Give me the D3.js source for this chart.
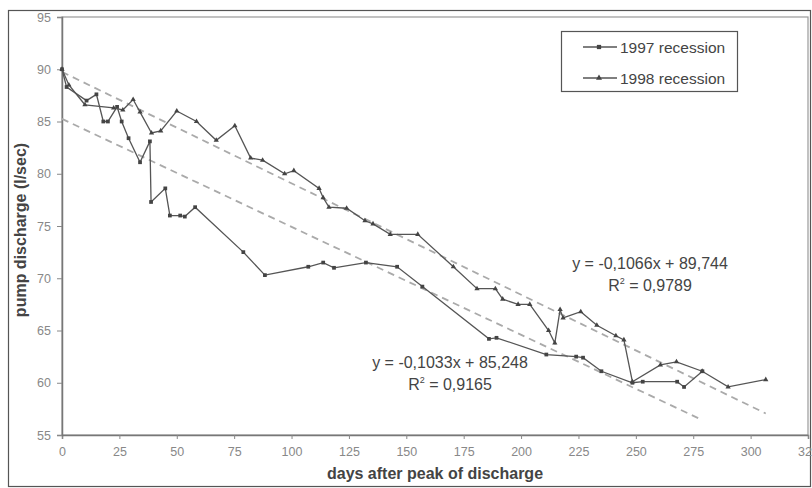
<!DOCTYPE html>
<html><head><meta charset="utf-8">
<script src="https://cdn.jsdelivr.net/npm/d3@7"></script>
<style>
html,body{margin:0;padding:0;background:#fff;}
svg{display:block;font-family:"Liberation Sans",Arial,sans-serif;}
</style></head>
<body>
<svg id="c" width="812" height="488"></svg>
<script>
// ---- data ----
const days1997 = [0, 2, 10.7, 15, 18, 20, 24, 26, 29, 34, 38.3, 38.8, 45, 47, 51.5, 53.5, 58, 79, 88.4, 107.3, 113.8, 118.5, 132.4, 146, 157, 186, 189.3, 211, 224, 227, 235, 248.5, 253, 268, 271, 279];
const vals1997 = [90.0, 88.3, 87.0, 87.6, 85.0, 85.0, 86.4, 85.0, 83.4, 81.1, 83.1, 77.3, 78.6, 76.0, 76.0, 75.9, 76.8, 72.5, 70.3, 71.1, 71.5, 71.0, 71.5, 71.1, 69.2, 64.2, 64.3, 62.7, 62.5, 62.4, 61.1, 60.0, 60.1, 60.1, 59.6, 61.1];
const days1998 = [0, 3, 10, 22.5, 26.5, 31, 34, 39, 43, 50, 58.6, 67.2, 75.3, 82.2, 87.4, 97, 101, 112, 113.8, 116.3, 124, 132, 135.5, 143, 155, 170.5, 180.8, 188.8, 192, 198.7, 203.8, 212, 214.7, 217, 218.3, 226, 233, 241.3, 244.8, 248.5, 260.7, 267.7, 278.9, 290.2, 306.6];
const vals1998 = [90.0, 88.5, 86.6, 86.3, 86.1, 87.1, 85.9, 83.9, 84.1, 86.0, 85.0, 83.2, 84.6, 81.5, 81.3, 80.0, 80.3, 78.6, 77.7, 76.8, 76.7, 75.5, 75.2, 74.2, 74.2, 71.1, 69.0, 69.0, 68.0, 67.5, 67.5, 65.0, 63.8, 67.0, 66.2, 66.8, 65.5, 64.5, 64.1, 60.1, 61.7, 62.0, 61.1, 59.6, 60.3];
const seriesNames = ["1997 recession", "1998 recession"];
const trendSlope = [-0.1033, -0.1066];
const trendIntercept = [85.248, 89.744];
const trendEq = ["y = -0,1033x + 85,248", "y = -0,1066x + 89,744"];
const trendR2 = ["0,9165", "0,9789"];
const xTicks = [0, 25, 50, 75, 100, 125, 150, 175, 200, 225, 250, 275, 300, 325];
const yTicks = [55, 60, 65, 70, 75, 80, 85, 90, 95];
const xTitle = "days after peak of discharge";
const yTitle = "pump discharge (l/sec)";

// ---- layout ----
const svg = d3.select("#c");
const L = 62, R = 808, T = 17, B = 435;
const x = d3.scaleLinear().domain([0, 325]).range([L, R]);
const y = d3.scaleLinear().domain([55, 95]).range([B, T]);

// outer frame
svg.append("rect").attr("x", 8.5).attr("y", 10.5).attr("width", 802).attr("height", 476)
  .attr("fill", "#fff").attr("stroke", "#555").attr("stroke-width", 1.2);
// plot area frame
svg.append("rect").attr("x", L).attr("y", T).attr("width", R - L).attr("height", B - T)
  .attr("fill", "none").attr("stroke", "#999").attr("stroke-width", 1.2);

// axes
const gx = svg.append("g").attr("transform", `translate(0,${B})`)
  .call(d3.axisBottom(x).tickValues(xTicks).tickSize(4).tickPadding(8));
const gy = svg.append("g").attr("transform", `translate(${L},0)`)
  .call(d3.axisLeft(y).tickValues(yTicks).tickSize(5).tickPadding(6));
[gx, gy].forEach(g => {
  g.select(".domain").attr("stroke", "#777").attr("stroke-width", 1.5);
  g.selectAll(".tick line").attr("stroke", "#888");
  g.selectAll(".tick text").attr("fill", "#888").attr("font-size", 12.5)
    .attr("font-family", "'Liberation Sans',Arial,sans-serif");
});

// axis titles
svg.append("text").attr("x", (L + R) / 2).attr("y", 479).attr("text-anchor", "middle")
  .attr("font-size", 16).attr("font-weight", "bold").attr("fill", "#444").text(xTitle);
svg.append("text").attr("transform", `translate(26,${(T + B) / 2 + 4}) rotate(-90)`)
  .attr("text-anchor", "middle").attr("font-size", 16).attr("font-weight", "bold")
  .attr("fill", "#444").text(yTitle);

// trendlines
const lastDays = [d3.max(days1997), d3.max(days1998)];
[0, 1].forEach(i => {
  const pts = [0, lastDays[i]].map(d => [d, trendSlope[i] * d + trendIntercept[i]]);
  svg.append("path").attr("d", d3.line().x(p => x(p[0])).y(p => y(p[1]))(pts))
    .attr("fill", "none").attr("stroke", "#aaa").attr("stroke-width", 1.8)
    .attr("stroke-dasharray", "7,5");
});

// series
const series = [
  {days: days1997, vals: vals1997, sym: d3.symbolSquare, size: 14},
  {days: days1998, vals: vals1998, sym: d3.symbolTriangle, size: 12}
];
const line = d3.line().x(p => x(p[0])).y(p => y(p[1]));
series.forEach(s => {
  const pts = s.days.map((d, i) => [d, s.vals[i]]);
  svg.append("path").attr("d", line(pts)).attr("fill", "none")
    .attr("stroke", "#555").attr("stroke-width", 1.3);
  svg.append("g").selectAll("path").data(pts).join("path")
    .attr("transform", p => `translate(${x(p[0])},${y(p[1])})`)
    .attr("d", d3.symbol().type(s.sym).size(s.size)).attr("fill", "#444");
});

// equations
const eqPos = [[450, 368, 390], [650, 269, 291]];
[0, 1].forEach(i => {
  svg.append("text").attr("x", eqPos[i][0]).attr("y", eqPos[i][1]).attr("text-anchor", "middle")
    .attr("font-size", 16).attr("fill", "#444").text(trendEq[i]);
  const t = svg.append("text").attr("x", eqPos[i][0]).attr("y", eqPos[i][2]).attr("text-anchor", "middle")
    .attr("font-size", 16).attr("fill", "#444");
  t.append("tspan").text("R");
  t.append("tspan").attr("font-size", 9).attr("dy", -7).text("2");
  t.append("tspan").attr("dy", 7).text(" = " + trendR2[i]);
});

// legend
const lg = svg.append("g");
lg.append("rect").attr("x", 561.5).attr("y", 31.5).attr("width", 176).attr("height", 60)
  .attr("fill", "#fff").attr("stroke", "#555").attr("stroke-width", 1.2);
seriesNames.forEach((n, i) => {
  const yy = 47 + i * 31;
  lg.append("line").attr("x1", 583).attr("x2", 617).attr("y1", yy).attr("y2", yy)
    .attr("stroke", "#555").attr("stroke-width", 1.3);
  lg.append("path").attr("transform", `translate(599,${yy})`)
    .attr("d", d3.symbol().type(series[i].sym).size(series[i].size * 1.3)).attr("fill", "#444");
  lg.append("text").attr("x", 620).attr("y", yy + 5.5).attr("font-size", 15.5).attr("fill", "#444").text(n);
});
</script>
</body></html>
